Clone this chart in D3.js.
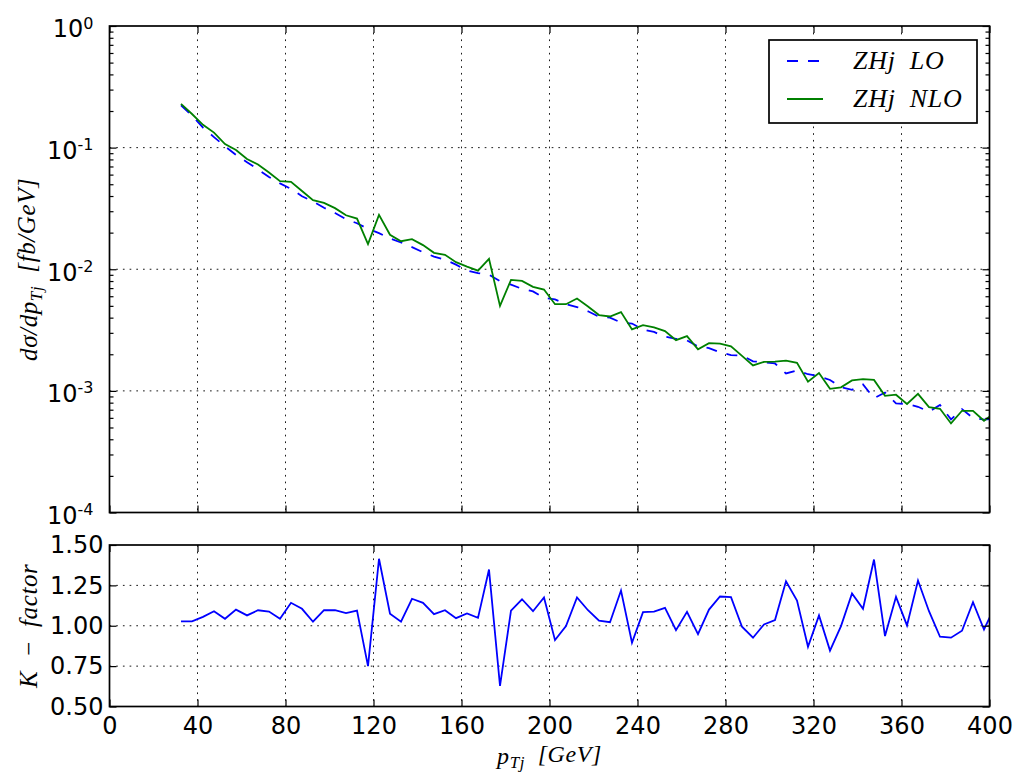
<!DOCTYPE html>
<html>
<head>
<meta charset="utf-8">
<script src="https://cdn.jsdelivr.net/npm/d3@7"></script>
<style>
body { margin: 0; background: #fff; }
</style>
</head>
<body>
<div id="chart"></div>
<script>
// bin centres in GeV
var ptBins = [32.5, 37.5, 42.5, 47.5, 52.5, 57.5, 62.5, 67.5, 72.5, 77.5,
              82.5, 87.5, 92.5, 97.5, 102.5, 107.5, 112.5, 117.5, 122.5, 127.5,
              132.5, 137.5, 142.5, 147.5, 152.5, 157.5, 162.5, 167.5, 172.5, 177.5,
              182.5, 187.5, 192.5, 197.5, 202.5, 207.5, 212.5, 217.5, 222.5, 227.5,
              232.5, 237.5, 242.5, 247.5, 252.5, 257.5, 262.5, 267.5, 272.5, 277.5,
              282.5, 287.5, 292.5, 297.5, 302.5, 307.5, 312.5, 317.5, 322.5, 327.5,
              332.5, 337.5, 342.5, 347.5, 352.5, 357.5, 362.5, 367.5, 372.5, 377.5,
              382.5, 387.5, 392.5, 397.5, 402.5];

var sigmaLO = [0.223, 0.184, 0.146, 0.122, 0.1026, 0.087, 0.0758, 0.0662, 0.0574, 0.0508,
               0.0458, 0.0398, 0.0361, 0.0320, 0.0290, 0.0258, 0.0239, 0.0215, 0.0198, 0.0179,
               0.0166, 0.0152, 0.0138, 0.01272, 0.01198, 0.01092, 0.00978, 0.00929, 0.00903, 0.00797,
               0.00748, 0.0069, 0.00658, 0.0058, 0.00566, 0.00517, 0.00489, 0.00451, 0.00407, 0.0040,
               0.00365, 0.00358, 0.0032, 0.00305, 0.00279, 0.00268, 0.0026, 0.00232, 0.00225, 0.00207,
               0.00197, 0.00195, 0.00175, 0.00172, 0.00168, 0.00139, 0.00147, 0.00137, 0.00132, 0.00123,
               0.00107, 0.00102, 0.00113, 0.00087, 0.00097, 0.00079, 0.00078, 0.00074, 0.000675, 0.000765,
               0.000583, 0.000708, 0.000599, 0.000581, 0.00059];

var sigmaNLO = [0.229, 0.189, 0.154, 0.133, 0.107, 0.0957, 0.0807, 0.0726, 0.0624, 0.053,
                0.0523, 0.044, 0.037, 0.0351, 0.0318, 0.0278, 0.0261, 0.0161, 0.028, 0.0192,
                0.017, 0.0177, 0.0158, 0.01364, 0.01313, 0.01143, 0.01052, 0.00975, 0.01217, 0.0050,
                0.00818, 0.00803, 0.00717, 0.00681, 0.00516, 0.00516, 0.00574, 0.00494, 0.0042, 0.00409,
                0.00444, 0.0032, 0.00347, 0.00332, 0.0031, 0.00261, 0.00282, 0.0022, 0.00247, 0.00245,
                0.00232, 0.00194, 0.00162, 0.00173, 0.00174, 0.00177, 0.0017, 0.00119, 0.0014, 0.00104,
                0.00107, 0.00122, 0.00125, 0.00123, 0.00091, 0.00093, 0.00078, 0.000946, 0.000736, 0.000713,
                0.00054, 0.000686, 0.000686, 0.000568, 0.00066];

var kFactor = [1.027, 1.027, 1.055, 1.09, 1.043, 1.10, 1.064, 1.096, 1.088, 1.043,
               1.142, 1.105, 1.025, 1.096, 1.096, 1.078, 1.094, 0.75, 1.415, 1.074,
               1.025, 1.167, 1.142, 1.072, 1.096, 1.047, 1.076, 1.049, 1.348, 0.627,
               1.094, 1.164, 1.09, 1.175, 0.911, 0.998, 1.175, 1.096, 1.031, 1.022,
               1.218, 0.895, 1.084, 1.088, 1.111, 0.973, 1.086, 0.948, 1.10, 1.181,
               1.177, 0.994, 0.926, 1.008, 1.035, 1.275, 1.156, 0.87, 1.064, 0.846,
               0.998, 1.20, 1.105, 1.41, 0.936, 1.179, 1.002, 1.28, 1.09, 0.932,
               0.926, 0.969, 1.146, 0.977, 1.12];

var xTicks = [0, 40, 80, 120, 160, 200, 240, 280, 320, 360, 400];
var logTicks = [1e-4, 1e-3, 1e-2, 1e-1, 1];
var logExponents = ["-4", "-3", "-2", "-1", "0"];
var kTicks = [0.5, 0.75, 1.0, 1.25, 1.5];
var kTickLabels = ["0.50", "0.75", "1.00", "1.25", "1.50"];
var legendLabels = ["ZHj LO", "ZHj NLO"];

var width = 1014, height = 775;
var left = 109.5, right = 989.5;
var topY0 = 26, topY1 = 512.5;
var botY0 = 545, botY1 = 706.5;

var tickFont = "DejaVu Sans";
var mathFont = "Liberation Serif";

var svg = d3.select("#chart")
    .append("svg")
    .attr("width", width)
    .attr("height", height);

var x = d3.scaleLinear().domain([0, 400]).range([left, right]);
var yTop = d3.scaleLog().domain([1e-4, 1]).range([topY1, topY0]);
var yBot = d3.scaleLinear().domain([0.5, 1.5]).range([botY1, botY0]);

// minor ticks for the log axis
var minorTicks = [];
logTicks.slice(0, -1).forEach(function(d) {
    for (var m = 2; m <= 9; m++) minorTicks.push(d * m);
});

var defs = svg.append("defs");
defs.append("clipPath").attr("id", "clipTop")
    .append("rect").attr("x", left).attr("y", topY0).attr("width", right - left).attr("height", topY1 - topY0);
defs.append("clipPath").attr("id", "clipBot")
    .append("rect").attr("x", left).attr("y", botY0).attr("width", right - left).attr("height", botY1 - botY0);

function grid(g, xs, ys, yScale, y0, y1) {
    g.selectAll(".gx").data(xs).enter().append("line")
        .attr("x1", function(d) { return x(d); }).attr("x2", function(d) { return x(d); })
        .attr("y1", y0).attr("y2", y1);
    g.selectAll(".gy").data(ys).enter().append("line")
        .attr("x1", left).attr("x2", right)
        .attr("y1", function(d) { return yScale(d); }).attr("y2", function(d) { return yScale(d); });
    g.selectAll("line")
        .attr("stroke", "#000")
        .attr("stroke-width", 0.9)
        .attr("stroke-dasharray", "1.7,5");
}

var innerX = xTicks.slice(1, -1);
grid(svg.append("g"), innerX, logTicks.slice(1, -1), yTop, topY0, topY1);
grid(svg.append("g"), innerX, kTicks.slice(1, -1), yBot, botY0, botY1);

// data lines
var lineLO = d3.line().x(function(d, i) { return x(ptBins[i]); }).y(function(d) { return yTop(d); });
var lineK = d3.line().x(function(d, i) { return x(ptBins[i]); }).y(function(d) { return yBot(d); });

var dataTop = svg.append("g").attr("clip-path", "url(#clipTop)");
dataTop.append("path")
    .datum(sigmaLO)
    .attr("d", lineLO)
    .attr("fill", "none")
    .attr("stroke", "#0000ff")
    .attr("stroke-width", 1.8)
    .attr("stroke-dasharray", "11,10");
dataTop.append("path")
    .datum(sigmaNLO)
    .attr("d", lineLO)
    .attr("fill", "none")
    .attr("stroke", "#008000")
    .attr("stroke-width", 1.8);

svg.append("g").attr("clip-path", "url(#clipBot)")
    .append("path")
    .datum(kFactor)
    .attr("d", lineK)
    .attr("fill", "none")
    .attr("stroke", "#0000ff")
    .attr("stroke-width", 1.8);

// axes, ticks pointing inward
function styleAxis(g) {
    g.selectAll(".domain").remove();
    g.selectAll(".tick line").attr("stroke", "#000").attr("stroke-width", 1.2);
    g.selectAll(".tick text")
        .attr("fill", "#000")
        .style("font-family", tickFont)
        .style("font-size", "24px");
}

var major = 7, minor = 4;

function xAxes(y0, y1, labels) {
    svg.append("g").attr("transform", "translate(0," + y0 + ")")
        .call(d3.axisTop(x).tickValues(xTicks).tickSizeInner(-major).tickSizeOuter(0).tickFormat(""))
        .call(styleAxis);
    svg.append("g").attr("transform", "translate(0," + y1 + ")")
        .call(d3.axisBottom(x).tickValues(xTicks).tickSizeInner(-major).tickSizeOuter(0)
              .tickPadding(10).tickFormat(labels ? d3.format("d") : ""))
        .call(styleAxis);
}
xAxes(topY0, topY1, false);
xAxes(botY0, botY1, true);

// log y axis, left and right
[["L", left], ["R", right]].forEach(function(s) {
    var mk = s[0] == "L" ? d3.axisLeft : d3.axisRight;
    var g = svg.append("g").attr("transform", "translate(" + s[1] + ",0)");
    g.call(mk(yTop).tickValues(logTicks).tickSizeInner(-major).tickSizeOuter(0).tickPadding(16)
           .tickFormat(s[0] == "L" ? function(d) { return "10"; } : ""))
        .call(styleAxis);
    svg.append("g").attr("transform", "translate(" + s[1] + ",0)")
        .call(mk(yTop).tickValues(minorTicks).tickSizeInner(-minor).tickSizeOuter(0).tickFormat(""))
        .call(styleAxis);
    if (s[0] == "L") {
        g.selectAll(".tick text").each(function(d, i) {
            var t = d3.select(this);
            t.attr("dy", "0.45em");
            t.append("tspan")
                .attr("dy", "-0.55em")
                .style("font-size", "16px")
                .text(logExponents[i]);
        });
    }
});

// K-factor axis, left and right
svg.append("g").attr("transform", "translate(" + left + ",0)")
    .call(d3.axisLeft(yBot).tickValues(kTicks).tickSizeInner(-major).tickSizeOuter(0).tickPadding(6)
          .tickFormat(function(d, i) { return kTickLabels[i]; }))
    .call(styleAxis);
svg.append("g").attr("transform", "translate(" + right + ",0)")
    .call(d3.axisRight(yBot).tickValues(kTicks).tickSizeInner(-major).tickSizeOuter(0).tickFormat(""))
    .call(styleAxis);

// frames
[[topY0, topY1], [botY0, botY1]].forEach(function(p) {
    svg.append("rect")
        .attr("x", left).attr("y", p[0])
        .attr("width", right - left).attr("height", p[1] - p[0])
        .attr("fill", "none")
        .attr("stroke", "#000")
        .attr("stroke-width", 1.7);
});

// axis labels
function mathText(sel, size) {
    return sel.style("font-family", mathFont)
        .style("font-style", "italic")
        .style("font-size", size + "px")
        .attr("fill", "#000");
}

var yl = mathText(svg.append("text"), 25)
    .attr("transform", "translate(37," + ((topY0 + topY1) / 2) + ") rotate(-90)")
    .attr("text-anchor", "middle")
    .attr("letter-spacing", "0.6px");
yl.append("tspan").text("d\u03c3/dp");
yl.append("tspan").style("font-size", "17px").attr("dy", "0.3em").text("Tj");
yl.append("tspan").attr("dy", "-0.3em").text("\u2002[fb/GeV]");

mathText(svg.append("text"), 25)
    .attr("transform", "translate(37," + ((botY0 + botY1) / 2) + ") rotate(-90)")
    .attr("text-anchor", "middle")
    .attr("letter-spacing", "0.6px")
    .text("K\u2002\u2212\u2002factor");

var xl = mathText(svg.append("text"), 24)
    .attr("x", (left + right) / 2).attr("y", 764)
    .attr("text-anchor", "middle")
    .attr("letter-spacing", "0.6px");
xl.append("tspan").text("p");
xl.append("tspan").style("font-size", "17px").attr("dy", "0.25em").text("Tj");
xl.append("tspan").attr("dy", "-0.25em").text("\u2002[GeV]");

// legend
var legend = svg.append("g");
legend.append("rect")
    .attr("x", 769).attr("y", 40).attr("width", 208).attr("height", 83)
    .attr("fill", "#fff").attr("stroke", "#000").attr("stroke-width", 1.7);
var legendStyles = [{ color: "#0000ff", dash: "11,10" }, { color: "#008000", dash: null }];
legendLabels.forEach(function(lab, i) {
    var yy = 61 + i * 38;
    legend.append("line")
        .attr("x1", 787).attr("x2", 823).attr("y1", yy).attr("y2", yy)
        .attr("stroke", legendStyles[i].color)
        .attr("stroke-width", 1.8)
        .attr("stroke-dasharray", legendStyles[i].dash);
    mathText(legend.append("text"), 26)
        .attr("x", 853).attr("y", yy + 8)
        .attr("letter-spacing", "0.8px")
        .text(lab.replace(" ", "\u2002"));
});
</script>
</body>
</html>
